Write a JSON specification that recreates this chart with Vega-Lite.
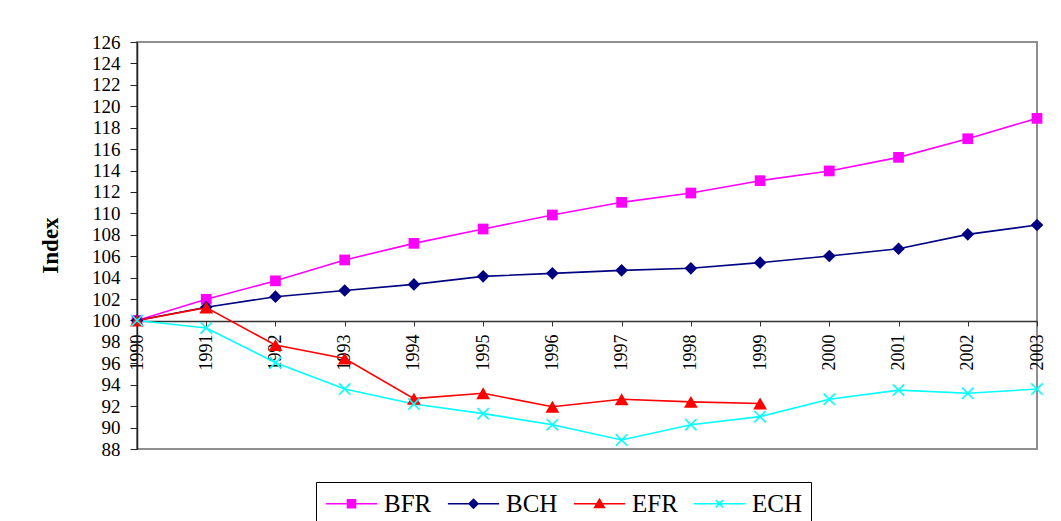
{
  "$schema": "https://vega.github.io/schema/vega-lite/v6.json",
  "width": 900,
  "height": 407,
  "autosize": "none",
  "padding": {"left": 137, "top": 42, "right": 24, "bottom": 72},
  "background": "white",
  "config": {
    "view": {"stroke": "#8f8f8f", "strokeWidth": 2},
    "font": "Liberation Serif",
    "legend": {
      "orient": "none",
      "legendX": 179,
      "legendY": 440,
      "direction": "horizontal",
      "columns": 4,
      "strokeColor": "black",
      "padding": 9,
      "labelFont": "Liberation Serif",
      "labelFontSize": 25,
      "labelColor": "black",
      "symbolSize": 64,
      "symbolStrokeWidth": 1.6,
      "symbolOffset": 14,
      "labelOffset": 20,
      "columnPadding": 12
    }
  },
  "data": {
    "values": [
      {"year": "1990", "series": "BFR", "value": 100},
      {"year": "1991", "series": "BFR", "value": 101.98},
      {"year": "1992", "series": "BFR", "value": 103.7},
      {"year": "1993", "series": "BFR", "value": 105.65},
      {"year": "1994", "series": "BFR", "value": 107.2},
      {"year": "1995", "series": "BFR", "value": 108.54},
      {"year": "1996", "series": "BFR", "value": 109.85},
      {"year": "1997", "series": "BFR", "value": 111.03},
      {"year": "1998", "series": "BFR", "value": 111.9},
      {"year": "1999", "series": "BFR", "value": 113.05},
      {"year": "2000", "series": "BFR", "value": 113.96},
      {"year": "2001", "series": "BFR", "value": 115.23},
      {"year": "2002", "series": "BFR", "value": 116.97},
      {"year": "2003", "series": "BFR", "value": 118.87},
      {"year": "1990", "series": "BCH", "value": 100},
      {"year": "1991", "series": "BCH", "value": 101.23},
      {"year": "1992", "series": "BCH", "value": 102.22},
      {"year": "1993", "series": "BCH", "value": 102.8},
      {"year": "1994", "series": "BCH", "value": 103.37},
      {"year": "1995", "series": "BCH", "value": 104.12},
      {"year": "1996", "series": "BCH", "value": 104.4},
      {"year": "1997", "series": "BCH", "value": 104.68},
      {"year": "1998", "series": "BCH", "value": 104.87},
      {"year": "1999", "series": "BCH", "value": 105.4},
      {"year": "2000", "series": "BCH", "value": 106.02},
      {"year": "2001", "series": "BCH", "value": 106.7},
      {"year": "2002", "series": "BCH", "value": 108.04},
      {"year": "2003", "series": "BCH", "value": 108.91},
      {"year": "1990", "series": "EFR", "value": 100},
      {"year": "1991", "series": "EFR", "value": 101.2},
      {"year": "1992", "series": "EFR", "value": 97.7},
      {"year": "1993", "series": "EFR", "value": 96.45},
      {"year": "1994", "series": "EFR", "value": 92.7},
      {"year": "1995", "series": "EFR", "value": 93.2},
      {"year": "1996", "series": "EFR", "value": 91.95},
      {"year": "1997", "series": "EFR", "value": 92.65},
      {"year": "1998", "series": "EFR", "value": 92.4},
      {"year": "1999", "series": "EFR", "value": 92.25},
      {"year": "1990", "series": "ECH", "value": 100},
      {"year": "1991", "series": "ECH", "value": 99.3},
      {"year": "1992", "series": "ECH", "value": 96.06},
      {"year": "1993", "series": "ECH", "value": 93.6},
      {"year": "1994", "series": "ECH", "value": 92.2},
      {"year": "1995", "series": "ECH", "value": 91.3},
      {"year": "1996", "series": "ECH", "value": 90.27},
      {"year": "1997", "series": "ECH", "value": 88.84},
      {"year": "1998", "series": "ECH", "value": 90.27},
      {"year": "1999", "series": "ECH", "value": 91.02},
      {"year": "2000", "series": "ECH", "value": 92.64},
      {"year": "2001", "series": "ECH", "value": 93.5},
      {"year": "2002", "series": "ECH", "value": 93.2},
      {"year": "2003", "series": "ECH", "value": 93.6}
    ]
  },
  "encoding": {
    "x": {
      "field": "year",
      "type": "ordinal",
      "sort": null,
      "scale": {"type": "point", "padding": 0},
      "axis": {
        "title": null,
        "orient": "bottom",
        "offset": -128,
        "grid": false,
        "domainColor": "#333333",
        "domainWidth": 1.5,
        "tickColor": "#333333",
        "tickSize": 5,
        "labelAngle": 270,
        "labelFont": "Liberation Serif",
        "labelFontSize": 18,
        "labelColor": "black",
        "labelPadding": 8,
        "labelOverlap": false
      }
    },
    "y": {
      "field": "value",
      "type": "quantitative",
      "scale": {"domain": [88, 126], "nice": false, "zero": false},
      "axis": {
        "title": "Index",
        "titleFont": "Liberation Serif",
        "titleFontSize": 23,
        "titleFontWeight": "bold",
        "titleColor": "black",
        "titleX": -75,
        "titleY": 203,
        "values": [88, 90, 92, 94, 96, 98, 100, 102, 104, 106, 108, 110, 112, 114, 116, 118, 120, 122, 124, 126],
        "grid": false,
        "domainColor": "#222222",
        "domainWidth": 1.5,
        "tickColor": "#222222",
        "tickSize": 7,
        "labelFont": "Liberation Serif",
        "labelFontSize": 19,
        "labelColor": "black",
        "labelPadding": 10,
        "labelOverlap": false
      }
    },
    "color": {
      "field": "series",
      "type": "nominal",
      "scale": {"domain": ["BFR", "BCH", "EFR", "ECH"], "range": ["#ff00ff", "#000080", "#ff0000", "#00ffff"]},
      "legend": {"title": null}
    }
  },
  "layer": [
    {
      "mark": {"type": "line", "strokeWidth": 1.6}
    },
    {
      "transform": [{"filter": "datum.series === 'BFR'"}],
      "mark": {"type": "point", "shape": "square", "filled": true, "size": 115, "opacity": 1}
    },
    {
      "transform": [{"filter": "datum.series === 'BCH'"}],
      "mark": {"type": "point", "shape": "diamond", "filled": true, "size": 160, "opacity": 1}
    },
    {
      "transform": [{"filter": "datum.series === 'EFR'"}],
      "mark": {"type": "point", "shape": "triangle-up", "filled": true, "size": 190, "opacity": 1}
    },
    {
      "transform": [{"filter": "datum.series === 'ECH'"}],
      "mark": {"type": "point", "shape": "M-1,-1L1,1M-1,1L1,-1", "filled": false, "strokeWidth": 1.6, "size": 130, "opacity": 1}
    },
    {
      "transform": [{"filter": "false"}],
      "mark": {"type": "point", "filled": true, "strokeWidth": 1.6, "opacity": 1},
      "encoding": {
        "stroke": {
          "field": "series",
          "type": "nominal",
          "scale": {"domain": ["BFR", "BCH", "EFR", "ECH"], "range": ["#ff00ff", "#000080", "#ff0000", "#00ffff"]},
          "legend": {"title": null}
        },
        "shape": {
          "field": "series",
          "type": "nominal",
          "scale": {"domain": ["BFR", "BCH", "EFR", "ECH"], "range": ["M-6.4,0L6.4,0M-1,-1L1,-1L1,1L-1,1Z", "M-6.4,0L6.4,0M0,-1.1L1.1,0L0,1.1L-1.1,0Z", "M-6.4,0L6.4,0M0,-1.1L1.2,0.9L-1.2,0.9Z", "M-6.4,0L6.4,0M-0.9,-0.9L0.9,0.9M-0.9,0.9L0.9,-0.9"]},
          "legend": {"title": null}
        }
      }
    }
  ]
}
